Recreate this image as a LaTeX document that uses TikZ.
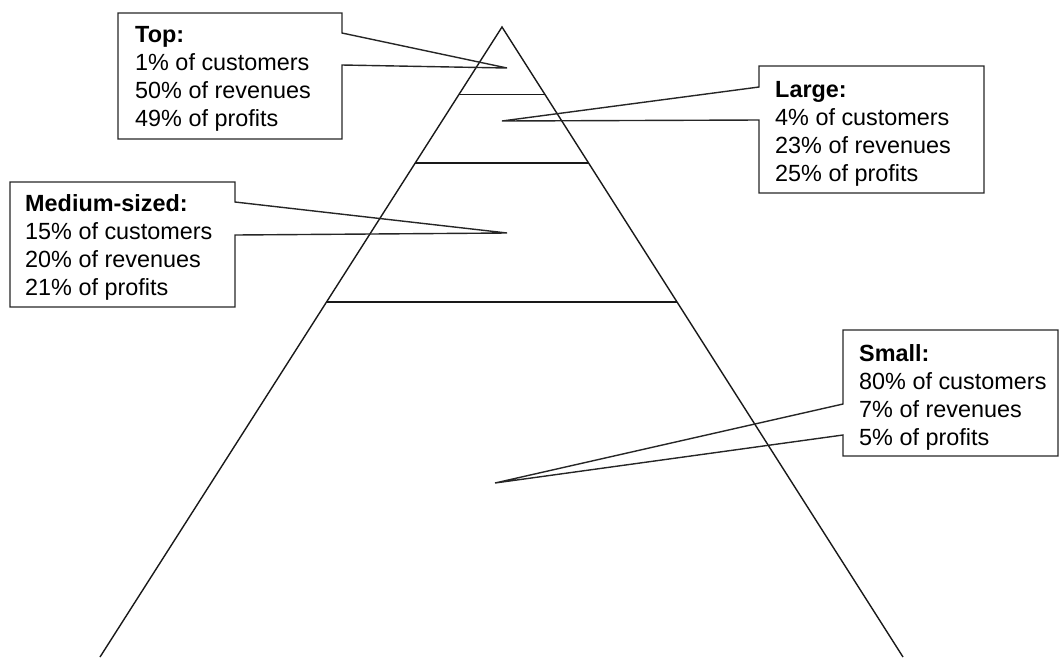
\documentclass[tikz,border=0pt]{standalone}
\usepackage{fontspec}
\setmainfont{Liberation Sans}
\usetikzlibrary{calc}
\begin{document}
\begin{tikzpicture}[x=1pt,y=-1pt,
  ln/.style={draw=black!90, line width=1.4pt},
  callout/.style={draw=black!85, line width=1.4pt, line join=miter},
  txt/.style={anchor=north west, inner sep=0pt, align=left, text=black,
    font=\fontsize{23.4}{28}\selectfont}]
\useasboundingbox (0,0) rectangle (1060,657);
% pyramid
\coordinate (apex) at (502,27);
\coordinate (bl) at (100,657);
\coordinate (br) at (903,657);
\draw[ln] (bl) -- (apex) -- (br);
\draw[ln] ($(apex)!0.1071!(bl)$) -- ($(apex)!0.1071!(br)$);
\draw[ln] ($(apex)!0.2159!(bl)$) -- ($(apex)!0.2159!(br)$);
\draw[ln] ($(apex)!0.4365!(bl)$) -- ($(apex)!0.4365!(br)$);
% texts
\node[txt] (top) at (135,26) {\textbf{Top:}\\1\% of customers\\50\% of revenues\\49\% of profits};
\node[txt] (large) at (775,81) {\textbf{Large:}\\4\% of customers\\23\% of revenues\\25\% of profits};
\node[txt] (medium) at (25,194) {\textbf{Medium-sized:}\\15\% of customers\\20\% of revenues\\21\% of profits};
\node[txt] (small) at (859,344) {\textbf{Small:}\\80\% of customers\\7\% of revenues\\5\% of profits};
% callouts
\coordinate (ttip) at (507,68);
\draw[callout] (118,13) -- (342,13) -- (342,33) -- (ttip) -- (342,65) -- (342,139) -- (118,139) -- cycle;
\coordinate (ltip) at (502,121);
\draw[callout] (984,66) -- (759,66) -- (759,87) -- (ltip) -- (759,120) -- (759,193) -- (984,193) -- cycle;
\coordinate (mtip) at (507,233);
\draw[callout] (10,182) -- (235,182) -- (235,202) -- (mtip) -- (235,235) -- (235,307) -- (10,307) -- cycle;
\coordinate (stip) at (495,483);
\draw[callout] (1058,330) -- (843,330) -- (843,404) -- (stip) -- (843,435) -- (843,456) -- (1058,456) -- cycle;
\end{tikzpicture}
\end{document}
